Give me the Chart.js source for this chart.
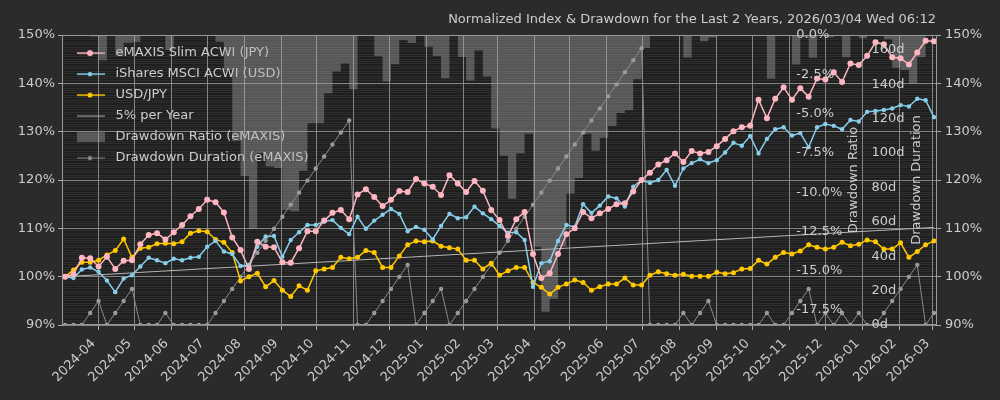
<!DOCTYPE html>
<html>
<head>
<meta charset="utf-8">
<title>Normalized Index & Drawdown</title>
<script src="https://cdn.jsdelivr.net/npm/chart.js"></script>
<style>
  html, body { margin: 0; padding: 0; background: #2b2b2b; }
  #wrap { width: 1000px; height: 400px; }
</style>
</head>
<body>
<div id="wrap"><canvas id="index-chart"></canvas></div>
<script>
// weekly closes, normalized to 100 at 2024-03-04
const startDate = '2024-03-04';
const titleText = 'Normalized Index & Drawdown for the Last 2 Years, 2026/03/04 Wed 06:12';

const eMaxis = [100.0,100.5,103.9,103.8,102.1,104.1,101.6,103.3,103.4,106.7,
  108.6,109.0,107.7,109.2,110.7,112.5,114.0,115.9,115.4,113.3,
  108.1,105.5,101.6,107.2,106.2,106.1,103.0,102.9,105.9,109.4,
  109.4,111.6,113.2,113.8,111.9,117.0,118.1,116.5,114.6,115.9,
  117.7,117.5,120.2,119.3,118.6,116.9,121.0,119.3,117.5,119.8,
  117.8,113.8,111.7,108.4,111.9,113.4,104.7,99.7,100.7,104.7,
  108.8,110.0,113.4,112.1,113.1,114.0,115.0,115.2,117.6,120.0,
  121.5,123.2,124.1,125.5,123.7,126.0,125.5,125.8,127.0,128.5,
  130.1,130.9,131.2,136.6,132.8,136.8,139.2,136.6,139.0,137.2,
  141.0,140.8,142.3,140.3,144.1,143.8,145.7,148.5,148.1,145.4,
  145.2,143.9,146.4,148.8,148.7];

const iShares = [100.0,99.7,101.5,101.9,101.0,99.2,96.8,99.6,100.3,102.1,
  103.9,103.4,102.8,103.7,103.4,103.9,104.1,106.2,107.4,105.2,
  104.7,102.2,102.4,106.2,108.3,108.4,104.1,107.6,109.2,110.7,
  110.7,111.4,111.7,110.1,108.8,112.4,109.9,111.6,112.8,114.0,
  113.0,109.4,110.3,109.7,107.7,110.5,113.0,112.1,112.3,114.5,
  113.1,111.9,110.5,109.1,109.2,107.6,97.9,102.8,103.2,107.4,
  110.7,110.3,115.0,113.2,114.7,116.6,116.2,114.5,118.6,120.0,
  119.4,120.0,122.1,118.8,122.4,123.5,124.3,123.5,124.1,125.7,
  127.7,127.1,129.1,125.5,128.5,130.5,130.9,129.2,129.7,126.8,
  130.9,131.6,131.2,130.5,132.4,132.1,134.1,134.3,134.5,134.8,
  135.5,135.2,136.8,136.5,133.0];

const usdJpy = [100.0,101.4,103.0,103.0,103.4,104.5,105.4,107.8,104.0,105.9,
  106.1,106.8,106.9,106.8,107.2,109.0,109.5,109.3,107.7,107.1,
  105.0,99.1,100.0,100.7,97.9,99.2,97.2,95.9,98.1,97.2,
  101.2,101.6,101.9,104.0,103.7,104.0,105.4,105.0,101.9,101.9,
  104.3,106.6,107.4,107.2,107.4,106.3,106.0,105.7,103.4,103.4,
  101.6,102.8,100.3,101.2,101.9,101.9,98.8,97.8,96.4,97.8,
  98.5,99.3,98.8,97.2,97.9,98.5,98.5,99.7,98.3,98.3,
  100.3,101.0,100.6,100.3,100.5,100.1,100.1,100.1,100.9,100.6,
  100.8,101.6,101.7,103.4,102.6,104.0,105.0,104.7,105.3,106.6,
  106.1,105.7,106.1,107.1,106.4,106.7,107.6,107.2,105.7,105.7,
  107.0,104.0,105.2,106.6,107.4];

// 5% per year reference: start and end of the window
const fivePctDays = [0, 728];
const fivePctValues = [100.0, 110.2];

// drawdown of eMAXIS (%), step bars from the top
const drawdownRatio = [0,0,0,-0.10,-1.6,0,-1.3,-0.5,-0.45,0,
  0,0,-0.95,0,0,0,0,0,-0.43,-2.24,
  -6.73,-8.97,-12.34,-7.51,-8.37,-8.46,-11.13,-11.22,-8.63,-5.61,
  -5.61,-3.71,-2.33,-1.81,-3.45,0,0,-1.35,-2.96,-1.86,
  -0.34,-0.51,0,-0.75,-1.33,-2.75,0,-1.40,-2.89,-0.99,
  -2.64,-5.95,-7.69,-10.41,-7.52,-6.28,-13.47,-17.60,-16.78,-13.47,
  -10.08,-9.09,-6.28,-7.36,-6.53,-5.79,-4.96,-4.79,-2.81,-0.83,
  0,0,0,0,-1.43,0,-0.40,-0.16,0,0,
  0,0,0,0,-2.78,0,0,-1.87,-0.14,-1.44,
  0,-0.14,0,-1.41,0,-0.21,0,0,-0.27,-2.09,
  -2.22,-3.10,-1.41,0,-0.07];

// days since last peak
const drawdownDuration = [0,0,0,7,14,0,7,14,21,0,
  0,0,7,0,0,0,0,0,7,14,
  21,28,35,42,49,56,63,70,77,84,
  91,98,105,112,119,0,0,7,14,21,
  28,35,0,7,14,21,0,7,14,21,
  28,35,42,49,56,63,70,77,84,91,
  98,105,112,119,126,133,140,147,154,161,
  0,0,0,0,7,0,7,14,0,0,
  0,0,0,0,7,0,0,7,14,21,
  0,7,0,7,0,7,0,0,7,14,
  21,28,35,0,7];

const monthLabels = ['2024-04','2024-05','2024-06','2024-07','2024-08','2024-09','2024-10','2024-11','2024-12',
  '2025-01','2025-02','2025-03','2025-04','2025-05','2025-06','2025-07','2025-08','2025-09','2025-10','2025-11','2025-12',
  '2026-01','2026-02','2026-03'];
const pctTicks = [90, 100, 110, 120, 130, 140, 150];
const ddTicks = [0, -2.5, -5, -7.5, -10, -12.5, -15, -17.5];
const durTicks = [0, 20, 40, 60, 80, 100, 120, 140, 160];

const DAY = 86400000;
const t0 = Date.parse(startDate + 'T00:00:00Z');
const weekDays = eMaxis.map((_, i) => i * 7);
const monthDays = monthLabels.map(m => (Date.parse(m + '-01T00:00:00Z') - t0) / DAY);

const textColor = '#cccccc';
const gridColor = '#858585';
const tickColor = '#aaaaaa';
const ddFill = 'rgba(170,170,170,0.40)';

Chart.defaults.font.family = "'DejaVu Sans', sans-serif";
Chart.defaults.font.size = 13;
Chart.defaults.color = textColor;

function legendIcon(kind, color, lw, r) {
    const c = document.createElement('canvas');
    c.width = 38; c.height = 14;
    const g = c.getContext('2d');
    if (kind === 'rect') {
        g.fillStyle = color;
        g.fillRect(6, 2, 28, 10);
        return c;
    }
    g.strokeStyle = color;
    g.lineWidth = lw;
    g.beginPath(); g.moveTo(6, 7); g.lineTo(34, 7); g.stroke();
    if (r) {
        g.fillStyle = color;
        g.beginPath(); g.arc(19, 7, r, 0, Math.PI * 2); g.fill();
    }
    return c;
}

// one icon per dataset, same index as data.datasets
const legendIcons = [
    legendIcon('line', '#ffb6c1', 1.5, 3),
    legendIcon('line', '#87ceeb', 1.5, 2.2),
    legendIcon('line', '#ffc800', 1.5, 2.5),
    legendIcon('line', '#b4b4b4', 1, 0),
    legendIcon('rect', ddFill),
    legendIcon('line', '#8a8a8a', 1, 2.2),
];

// plot background, frame and the two inner axes (drawdown ratio / duration)
const plotFrame = {
    id: 'plotFrame',
    beforeDraw(chart) {
        const {ctx, chartArea: a} = chart;
        ctx.save();
        ctx.fillStyle = '#1f1f1f';
        ctx.fillRect(a.left, a.top, a.width, a.height);
        ctx.restore();
    },
    afterDraw(chart) {
        const {ctx, chartArea: a} = chart;
        ctx.save();
        ctx.strokeStyle = '#9a9a9a';
        ctx.lineWidth = 1;
        ctx.strokeRect(Math.round(a.left) - 0.5, Math.round(a.top) + 0.5,
            Math.round(a.width) + 1, Math.round(a.height) - 1);

        ctx.font = "13px 'DejaVu Sans', sans-serif";
        ctx.fillStyle = textColor;
        ctx.textBaseline = 'middle';
        ctx.textAlign = 'left';
        const dd = chart.scales.yDD;
        const ddX = a.left + a.width * 0.84;
        ddTicks.forEach(v => ctx.fillText(v.toFixed(1) + '%', ddX, dd.getPixelForValue(v)));
        const dur = chart.scales.yDur;
        const durX = a.left + a.width * 0.926;
        durTicks.forEach(v => ctx.fillText(v + 'd', durX, dur.getPixelForValue(v)));

        ctx.textAlign = 'center';
        const midY = (a.top + a.bottom) / 2;
        [['Drawdown Ratio', 0.906], ['Drawdown Duration', 0.978]].forEach(([t, f]) => {
            ctx.save();
            ctx.translate(a.left + a.width * f, midY);
            ctx.rotate(-Math.PI / 2);
            ctx.fillText(t, 0, 0);
            ctx.restore();
        });
        ctx.restore();
    }
};

const ctx = document.getElementById('index-chart').getContext('2d');
new Chart(ctx, {
    type: 'line',
    data: {
        labels: weekDays,
        datasets: [{
            label: 'eMAXIS Slim ACWI (JPY)',
            data: eMaxis,
            borderColor: '#ffb6c1',
            backgroundColor: '#ffb6c1',
            borderWidth: 1.5,
            pointRadius: 3,
            pointBorderWidth: 0,
            order: 1,
        }, {
            label: 'iShares MSCI ACWI (USD)',
            data: iShares,
            borderColor: '#87ceeb',
            backgroundColor: '#87ceeb',
            borderWidth: 1.5,
            pointRadius: 2.2,
            pointBorderWidth: 0,
            order: 2,
        }, {
            label: 'USD/JPY',
            data: usdJpy,
            borderColor: '#ffc800',
            backgroundColor: '#ffc800',
            borderWidth: 1.5,
            pointRadius: 2.5,
            pointBorderWidth: 0,
            order: 3,
        }, {
            label: '5% per Year',
            data: fivePctDays.map((d, i) => ({x: d, y: fivePctValues[i]})),
            borderColor: '#b4b4b4',
            borderWidth: 1,
            pointRadius: 0,
            order: 4,
        }, {
            label: 'Drawdown Ratio (eMAXIS)',
            data: drawdownRatio,
            yAxisID: 'yDD',
            stepped: 'before',
            fill: 'origin',
            backgroundColor: ddFill,
            borderColor: 'rgba(0,0,0,0)',
            borderWidth: 0,
            pointRadius: 0,
            order: 6,
        }, {
            label: 'Drawdown Duration (eMAXIS)',
            data: drawdownDuration,
            yAxisID: 'yDur',
            borderColor: '#8a8a8a',
            backgroundColor: '#9a9a9a',
            borderWidth: 1,
            pointRadius: 2.2,
            pointBorderWidth: 0,
            order: 5,
        }]
    },
    options: {
        responsive: true,
        maintainAspectRatio: false,
        animation: false,
        layout: { padding: 0 },
        elements: { line: { tension: 0 } },
        plugins: {
            title: {
                display: true,
                text: titleText,
                align: 'end',
                fullSize: false,
                color: textColor,
                font: { size: 13, weight: 'normal' },
                padding: { top: 12, bottom: 7.4 },
            },
            legend: {
                position: 'chartArea',
                align: 'start',
                // the vertical legend box starts at the canvas top, so push it down into the plot
                title: { display: true, text: ' ', font: { size: 3 }, padding: { top: 35, bottom: 0 } },
                labels: {
                    usePointStyle: true,
                    pointStyleWidth: 38,
                    padding: 8,
                    color: textColor,
                    generateLabels(chart) {
                        const items = Chart.defaults.plugins.legend.labels.generateLabels(chart);
                        return items
                            .sort((a, b) => a.datasetIndex - b.datasetIndex)
                            .map(it => ({ ...it, pointStyle: legendIcons[it.datasetIndex] }));
                    }
                }
            },
            tooltip: { enabled: false }
        },
        scales: {
            yMinor: {
                position: 'left',
                z: -1,
                min: 90,
                max: 150,
                ticks: { display: false, stepSize: 0.5, maxTicksLimit: 200 },
                grid: {
                    drawTicks: false,
                    color: c => Math.abs(c.tick.value - Math.round(c.tick.value / 10) * 10) < 0.01 ? 'rgba(0,0,0,0)' : '#2d2d2d'
                },
                border: { display: false },
                afterFit: s => { s.width = 0; }
            },
            x: {
                type: 'linear',
                min: -1.8,
                max: 729.7,
                afterBuildTicks: s => { s.ticks = monthDays.map(v => ({ value: v })); },
                afterFit: s => { s.height = 75; },
                ticks: {
                    autoSkip: false,
                    minRotation: 45,
                    maxRotation: 45,
                    padding: 6,
                    labelOffset: -5,
                    callback: (v, i) => monthLabels[i]
                },
                grid: { color: gridColor, tickColor: tickColor, tickLength: 5 },
                border: { display: false }
            },
            y: {
                position: 'left',
                min: 90,
                max: 150,
                afterBuildTicks: s => { s.ticks = pctTicks.map(v => ({ value: v })); },
                afterFit: s => { s.width = 63; },
                ticks: { padding: 3, callback: v => v + '%' },
                grid: { color: gridColor, tickColor: tickColor, tickLength: 5 },
                border: { display: false }
            },
            yR: {
                position: 'right',
                min: 90,
                max: 150,
                afterBuildTicks: s => { s.ticks = pctTicks.map(v => ({ value: v })); },
                afterFit: s => { s.width = 64; },
                ticks: { padding: 4, callback: v => v + '%' },
                grid: { drawOnChartArea: false, tickColor: tickColor, tickLength: 5 },
                border: { display: false }
            },
            yDD: { display: false, position: 'right', min: -18.45, max: 0 },
            yDur: { display: false, position: 'right', min: 0, max: 168.7 }
        }
    },
    plugins: [plotFrame]
});
</script>
</body>
</html>
